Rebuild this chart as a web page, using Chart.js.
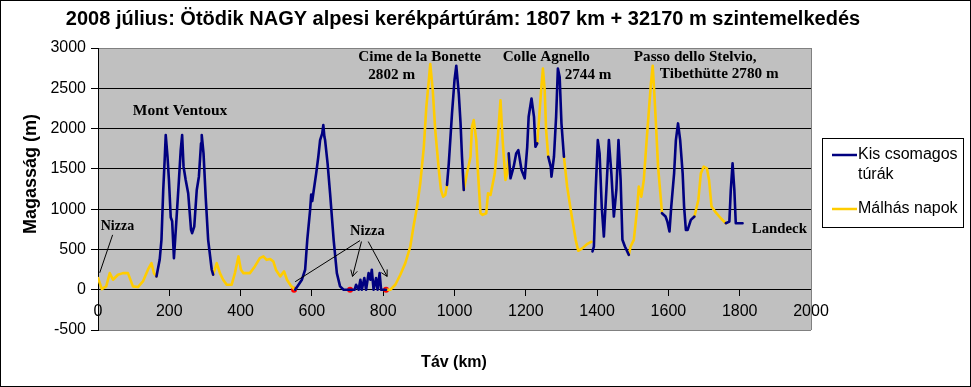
<!DOCTYPE html>
<html><head><meta charset="utf-8">
<script src="https://cdn.jsdelivr.net/npm/chart.js@4.4.1/dist/chart.umd.min.js"></script>
<style>html,body{margin:0;padding:0;background:#fff;}#wrap{width:971px;height:387px;position:relative;}</style>
</head><body><div id="wrap"><canvas id="c" width="971" height="387"></canvas></div>
<script>
// ---------- DATA ----------
const titleText = '2008 július: Ötödik NAGY alpesi kerékpártúrám: 1807 km + 32170 m szintemelkedés';
const xAxisTitle = 'Táv (km)';
const yAxisTitle = 'Magasság (m)';
const seriesNames = ['Kis csomagos túrák', 'Málhás napok'];
const xTicks = [0, 200, 400, 600, 800, 1000, 1200, 1400, 1600, 1800, 2000];
const yTicks = [-500, 0, 500, 1000, 1500, 2000, 2500, 3000];

// Kis csomagos túrák (blue) – null separates segments
const blueKm = [164,173,178,183,187,190,195,199,204,208,213,220,227,232,236,240,246,253,261,264,270,277,283,289,291,296,302,309,319,323, null,
  553,572,581,587,595,598,601,604,612,618,623,629,632,635,637,644,651,661,670,679,689,707,720,724,731,736,740,747,752,759,764,768,773,780,784,790,794,808, null,
  979,984,993,1000,1005,1012,1017,1021,1026, null,
  1152,1157,1166,1173,1179,1188,1197,1204,1208,1216,1223,1227,1232, null,
  1263,1270,1272,1279,1285,1290,1295,1300,1307, null,
  1387,1391,1396,1402,1407,1413,1419,1426,1433,1440,1447,1454,1460,1466,1471,1478,1489, null,
  1582,1592,1597,1603,1608,1616,1621,1627,1633,1640,1644,1649,1654,1663,1673, null,
  1761,1771,1775,1780,1785,1789,1808];
const blueM = [165,371,619,1238,1610,1919,1650,1362,900,850,392,867,1362,1733,1919,1527,1362,1197,743,702,784,1238,1403,1816,1919,1692,1155,619,248,186, null,
  0,124,248,619,990,1180,1100,1197,1444,1650,1857,1940,2043,1900,1857,1568,1197,619,206,41,0,0,0,62,0,124,0,145,0,206,124,248,0,145,0,206,0,0, null,
  1300,1568,2188,2600,2780,2435,2064,1650,1238, null,
  1692,1383,1527,1692,1733,1486,1383,1774,2146,2373,2146,1774,1816, null,
  1650,1527,1403,1650,2146,2744,2641,2064,1650, null,
  475,536,1238,1857,1692,1032,660,1238,1857,1444,908,1238,1857,1362,620,536,433, null,
  949,908,846,722,1032,1444,1857,2064,1857,1444,1032,743,743,867,908, null,
  825,846,1238,1568,1238,825,825];

// Málhás napok (yellow)
const yellowKm = [0,11,23,33,42,56,70,84,98,112,126,140,150,157,164, null,
  323,333,342,351,361,375,384,394,401,408,426,440,454,464,473,483,492,499,511,522,530,541,553, null,
  808,820,834,848,862,876,885,895,904,914,921,928,932,939,946,956,962,968,974,979, null,
  1026,1035,1045,1049,1054,1061,1066,1073,1079,1089,1094,1101,1113,1123,1129,1135,1143,1148,1152, null,
  1232,1237,1243,1248,1253,1257,1263, null,
  1307,1316,1329,1340,1347,1359,1373,1384, null,
  1489,1494,1503,1512,1517,1524,1531,1539,1546,1551,1556,1560,1565,1571,1579,1582, null,
  1673,1684,1691,1699,1708,1714,1721,1731,1747,1761];
const yellowM = [145,8,41,206,124,186,206,206,41,33,103,248,330,206,165, null,
  186,330,206,124,62,62,206,413,248,206,206,289,392,413,371,380,350,248,165,227,124,50,0, null,
  0,0,62,186,330,536,784,1032,1321,1774,2270,2600,2802,2476,1981,1486,1238,1155,1176,1300, null,
  1238,1444,1650,2022,2105,1857,1444,949,929,949,1197,1176,1444,1981,2352,1857,1362,1444,1692, null,
  1816,2105,2476,2744,2476,1981,1650, null,
  1650,1279,908,619,483,516,570,595, null,
  433,536,619,990,1279,1155,1362,1857,2270,2559,2780,2476,2064,1527,1114,949, null,
  908,1114,1444,1527,1506,1362,1032,970,887,825];

// Nizza points (red markers)
const nizzaKm = [550, 707, 808];
const nizzaM = [0, 0, 0];

// Annotation texts
const placeTexts = ['Mont Ventoux', 'Nizza', 'Nizza', 'Cime de la Bonette', '2802 m', 'Colle Agnello', '2744 m',
  'Passo dello Stelvio,', 'Tibethütte 2780 m', 'Landeck'];

// ---------- LAYOUT / STYLE (not data) ----------
const SANS = "'Liberation Sans', Arial, sans-serif";
const SERIF = "'Liberation Serif', 'Times New Roman', serif";
const BLUE = '#000080';
const YELLOW = '#FFCC00';
// anchor (left edge, vertical middle) in axis units, font px
const annotLayout = [
  {km: 97.5, m: 2216, size: 15.5},
  {km: 7.6, m: 792, size: 14},
  {km: 707, m: 730, size: 14.5},
  {km: 730, m: 2885, size: 15.2},
  {km: 758, m: 2662, size: 15.2},
  {km: 1135, m: 2885, size: 15.2},
  {km: 1309, m: 2662, size: 15.2},
  {km: 1503, m: 2885, size: 15.2},
  {km: 1576, m: 2674, size: 15.2},
  {km: 1834, m: 755, size: 14.8}
];
// leader lines [km1, m1, km2, m2, arrow]
const leaderLayout = [
  [41, 681, 4.8, 210, false],
  [735, 610, 553, 99, false],
  [739, 598, 714, 165, true],
  [758, 598, 811, 165, true]
];

function toPoints(kms, ms) {
  const pts = [];
  let last = 0;
  for (let i = 0; i < kms.length; i++) {
    if (kms[i] === null || ms[i] === null) { pts.push({x: last, y: null}); }
    else { last = kms[i]; pts.push({x: kms[i], y: ms[i]}); }
  }
  return pts;
}

const decorPlugin = {
  id: 'decor',
  beforeDraw(chart) {
    const {ctx, chartArea: a} = chart;
    ctx.save();
    ctx.fillStyle = '#fff';
    ctx.fillRect(0, 0, chart.width, chart.height);
    ctx.fillStyle = '#C0C0C0';
    ctx.fillRect(a.left, a.top, a.right - a.left, a.bottom - a.top);
    ctx.restore();
  },
  afterDraw(chart) {
    const {ctx, chartArea: a} = chart;
    const xs = chart.scales.x, ys = chart.scales.y;
    ctx.save();
    // plot area border (right, grey)
    ctx.strokeStyle = '#808080';
    ctx.lineWidth = 1;
    ctx.beginPath();
    ctx.moveTo(Math.round(a.right) + 0.5, a.top);
    ctx.lineTo(Math.round(a.right) + 0.5, a.bottom);
    ctx.stroke();
    // outer border
    ctx.strokeStyle = '#000';
    ctx.strokeRect(0.5, 0.5, chart.width - 1, chart.height - 1);

    // title
    ctx.fillStyle = '#000';
    ctx.textAlign = 'center';
    ctx.textBaseline = 'middle';
    ctx.font = 'bold 20px ' + SANS;
    ctx.fillText(titleText, 463, 19);
    // x axis title
    ctx.font = 'bold 16px ' + SANS;
    ctx.fillText(xAxisTitle, 454, 363);
    // y axis title
    ctx.save();
    ctx.translate(31, 174);
    ctx.rotate(-Math.PI / 2);
    ctx.font = 'bold 18px ' + SANS;
    ctx.fillText(yAxisTitle, 0, 0);
    ctx.restore();

    // annotations
    ctx.textAlign = 'left';
    ctx.textBaseline = 'middle';
    placeTexts.forEach((t, i) => {
      const L = annotLayout[i];
      ctx.font = 'bold ' + L.size + 'px ' + SERIF;
      ctx.fillText(t, xs.getPixelForValue(L.km), ys.getPixelForValue(L.m));
    });
    // leader lines
    ctx.strokeStyle = '#000';
    ctx.lineWidth = 1;
    leaderLayout.forEach(l => {
      const x1 = xs.getPixelForValue(l[0]), y1 = ys.getPixelForValue(l[1]);
      const x2 = xs.getPixelForValue(l[2]), y2 = ys.getPixelForValue(l[3]);
      ctx.beginPath();
      ctx.moveTo(x1, y1); ctx.lineTo(x2, y2);
      ctx.stroke();
      if (l[4]) {
        const ang = Math.atan2(y2 - y1, x2 - x1);
        const h = 7;
        ctx.beginPath();
        ctx.moveTo(x2 - h * Math.cos(ang - 0.5), y2 - h * Math.sin(ang - 0.5));
        ctx.lineTo(x2, y2);
        ctx.lineTo(x2 - h * Math.cos(ang + 0.5), y2 - h * Math.sin(ang + 0.5));
        ctx.stroke();
      }
    });

    // legend
    const bx = 822.5, by = 138.5, bw = 141, bh = 89;
    ctx.fillStyle = '#fff';
    ctx.fillRect(bx, by, bw, bh);
    ctx.strokeStyle = '#000';
    ctx.strokeRect(bx, by, bw, bh);
    ctx.font = '16px ' + SANS;
    ctx.fillStyle = '#000';
    const textX = 858, maxW = 104;
    let y = 155;
    chart.data.datasets.slice(0, 2).forEach((ds, i) => {
      ctx.strokeStyle = ds.borderColor;
      ctx.lineWidth = 2.5;
      ctx.beginPath();
      ctx.moveTo(832, y); ctx.lineTo(857, y);
      ctx.stroke();
      const words = ds.label.split(' ');
      const lines = [];
      let cur = '';
      words.forEach(w => {
        const test = cur ? cur + ' ' + w : w;
        if (ctx.measureText(test).width > maxW && cur) { lines.push(cur); cur = w; }
        else cur = test;
      });
      lines.push(cur);
      lines.forEach((ln, k) => ctx.fillText(ln, textX, y + k * 20));
      y += lines.length * 20 + 14;
    });
    ctx.restore();
  }
};

Chart.defaults.font.family = SANS;
Chart.defaults.color = '#000';

new Chart(document.getElementById('c'), {
  type: 'line',
  data: {
    datasets: [
      {label: seriesNames[0], data: toPoints(blueKm, blueM), borderColor: BLUE, borderWidth: 2.6,
        pointRadius: 0, spanGaps: false, tension: 0, borderJoinStyle: 'round', borderCapStyle: 'round'},
      {label: seriesNames[1], data: toPoints(yellowKm, yellowM), borderColor: YELLOW, borderWidth: 2.6,
        pointRadius: 0, spanGaps: false, tension: 0, borderJoinStyle: 'round', borderCapStyle: 'round'},
      {label: 'Nizza', data: toPoints(nizzaKm, nizzaM), showLine: false, pointRadius: 3,
        pointBackgroundColor: '#FF0000', pointBorderWidth: 0, borderColor: '#FF0000'}
    ]
  },
  options: {
    responsive: false,
    animation: false,
    devicePixelRatio: 1,
    layout: {padding: {left: 0, right: 160, top: 48, bottom: 57}},
    plugins: {legend: {display: false}, title: {display: false}, tooltip: {enabled: false}},
    scales: {
      x: {
        type: 'linear', min: 0, max: 2000, position: {y: 0},
        afterBuildTicks: s => { s.ticks = xTicks.map(v => ({value: v})); },
        grid: {drawOnChartArea: false, drawTicks: true, tickLength: 6, color: '#000', tickColor: '#000'},
        border: {display: true, color: '#000', width: 1},
        ticks: {padding: 6, color: '#000', font: {size: 16}, maxRotation: 0, autoSkip: false,
          callback: v => String(v)}
      },
      y: {
        type: 'linear', min: -500, max: 3000, position: 'left',
        afterBuildTicks: s => { s.ticks = yTicks.map(v => ({value: v})); },
        afterFit: s => { s.width = 98; },
        grid: {color: c => (c.tick && (c.tick.value === 3000 || c.tick.value === -500)) ? '#808080' : '#000',
          tickColor: '#000', tickLength: 7, lineWidth: 1},
        border: {display: true, color: '#000', width: 1},
        ticks: {padding: 5, color: '#000', font: {size: 16}, autoSkip: false,
          callback: v => String(v)}
      }
    }
  },
  plugins: [decorPlugin]
});
</script>
</body></html>
